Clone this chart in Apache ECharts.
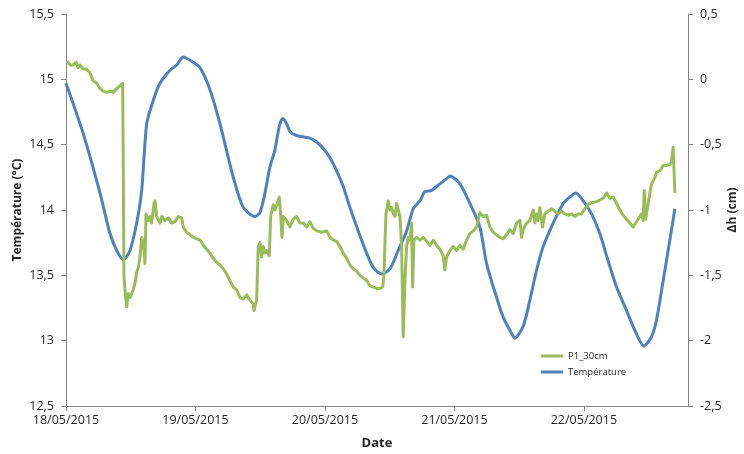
<!DOCTYPE html>
<html>
<head>
<meta charset="utf-8">
<script src="https://cdn.jsdelivr.net/npm/echarts@6/dist/echarts.min.js"></script>
<style>
  html, body { margin: 0; padding: 0; background: #fff; }
  #chart { width: 744px; height: 454px; }
</style>
</head>
<body>
<div id="chart"></div>
<script>
// Heures écoulées depuis le 18/05/2015 00:00
const dateLabels = ['18/05/2015', '19/05/2015', '20/05/2015', '21/05/2015', '22/05/2015'];
const axisEndHours = 115.3;

// P1_30cm : Δh (cm), axe de droite
const p1Hours = [
    0.19, 0.74, 1.30, 1.85, 2.22, 2.59, 3.15, 3.71, 4.45, 5.00, 5.69, 6.30, 6.86, 7.54, 8.15, 8.71, 9.40, 10.01, 10.51, 10.62,
    10.75, 10.93, 11.25, 11.55, 11.86, 12.18, 12.47, 12.79, 13.10, 13.40, 13.71, 14.03, 14.33, 14.64, 14.83, 15.25, 15.57, 15.88,
    16.31, 16.49, 16.81, 17.11, 17.42, 17.74, 18.35, 18.96, 19.59, 20.20, 20.81, 21.44, 21.74, 22.37, 22.98, 23.59, 24.22, 24.83,
    25.45, 26.08, 26.69, 27.30, 27.93, 28.54, 29.15, 29.78, 30.39, 31.01, 31.64, 32.25, 32.86, 33.49, 34.10, 34.71, 34.84, 35.03,
    35.34, 35.64, 35.95, 36.27, 36.57, 36.88, 37.20, 37.68, 37.94, 38.42, 38.73, 39.16, 39.53, 39.79, 40.03, 40.27, 40.90, 41.51,
    42.13, 42.76, 43.37, 43.98, 44.61, 45.22, 45.83, 46.46, 47.39, 48.32, 48.93, 49.54, 50.17, 50.78, 51.39, 52.02, 52.63, 53.24,
    53.87, 54.49, 55.10, 55.73, 56.34, 56.95, 57.58, 58.19, 58.69, 58.93, 59.31, 59.73, 60.05, 60.36, 60.66, 60.97, 61.29, 61.58,
    61.90, 62.21, 62.51, 62.83, 63.14, 63.44, 63.75, 64.07, 64.25, 64.49, 64.99, 65.61, 66.22, 66.85, 67.46, 68.07, 68.39, 68.70,
    69.31, 69.92, 70.24, 70.55, 71.17, 71.78, 72.41, 73.02, 73.63, 74.26, 74.87, 75.48, 76.11, 76.72, 77.04, 77.34, 77.97, 78.58,
    79.19, 79.82, 80.43, 81.04, 81.67, 82.28, 82.90, 83.53, 84.14, 84.45, 84.75, 85.38, 85.99, 86.60, 86.92, 87.23, 87.53, 87.85,
    88.16, 88.34, 88.77, 89.38, 90.01, 90.62, 91.24, 91.87, 92.48, 93.09, 93.72, 94.33, 94.94, 95.57, 96.19, 96.80, 97.43, 98.04,
    98.65, 99.58, 100.21, 100.82, 101.43, 102.06, 102.67, 103.28, 103.91, 104.52, 105.14, 105.77, 106.38, 106.69, 106.99, 107.18,
    107.44, 107.92, 108.23, 108.55, 109.16, 109.47, 110.09, 110.70, 111.33, 111.94, 112.25, 112.55, 112.87
];
const p1Values = [
    0.14, 0.11, 0.11, 0.13, 0.09, 0.11, 0.08, 0.08, 0.05, -0.01, -0.03, -0.07, -0.09, -0.10, -0.09, -0.10, -0.07, -0.05, -0.03, -0.04,
    -1.51, -1.61, -1.74, -1.64, -1.67, -1.64, -1.61, -1.56, -1.48, -1.44, -1.36, -1.21, -1.25, -1.41, -1.03, -1.08, -1.05, -1.10,
    -0.95, -0.93, -1.05, -1.04, -1.10, -1.05, -1.08, -1.06, -1.10, -1.09, -1.05, -1.06, -1.13, -1.17, -1.19, -1.21, -1.22, -1.23,
    -1.27, -1.30, -1.33, -1.37, -1.40, -1.42, -1.45, -1.49, -1.54, -1.59, -1.61, -1.67, -1.68, -1.65, -1.69, -1.72, -1.77, -1.74,
    -1.69, -1.28, -1.25, -1.36, -1.28, -1.33, -1.31, -1.35, -1.05, -0.96, -1.00, -0.95, -0.90, -1.03, -1.21, -1.05, -1.08, -1.13,
    -1.07, -1.05, -1.10, -1.10, -1.13, -1.09, -1.14, -1.16, -1.17, -1.16, -1.21, -1.23, -1.24, -1.28, -1.33, -1.37, -1.42, -1.45,
    -1.47, -1.50, -1.52, -1.54, -1.58, -1.59, -1.60, -1.60, -1.59, -1.51, -1.03, -0.93, -1.00, -0.98, -1.03, -1.05, -0.95, -0.94,
    -1.05, -1.28, -1.97, -1.54, -1.28, -1.21, -1.23, -1.10, -1.59, -1.23, -1.21, -1.23, -1.21, -1.24, -1.27, -1.23, -1.22, -1.27,
    -1.30, -1.35, -1.46, -1.36, -1.31, -1.28, -1.31, -1.27, -1.30, -1.23, -1.18, -1.16, -1.13, -1.02, -1.03, -1.05, -1.04, -1.13,
    -1.17, -1.19, -1.21, -1.22, -1.19, -1.15, -1.18, -1.10, -1.08, -1.21, -1.15, -1.10, -1.08, -1.00, -1.10, -1.03, -1.08, -0.98,
    -0.98, -1.13, -1.03, -1.01, -0.99, -1.01, -1.03, -1.01, -1.03, -1.04, -1.03, -1.05, -1.03, -1.03, -0.99, -0.96, -0.94, -0.94,
    -0.93, -0.91, -0.87, -0.91, -0.90, -0.95, -1.00, -1.04, -1.07, -1.10, -1.13, -1.09, -1.05, -1.03, -1.08, -0.85,
    -1.07, -0.95, -0.87, -0.80, -0.75, -0.71, -0.70, -0.66, -0.66, -0.65, -0.63, -0.52, -0.87
];

// Température (°C), axe de gauche
const tempHours = [
    0, 3.15, 6.30, 8.15, 9.40, 10.62, 11.86, 13.10, 14.03, 14.96, 16.18, 17.42, 19.28, 20.52, 21.74, 23.59, 24.83, 26.69,
    28.54, 31.01, 32.86, 35.03, 35.95, 36.88, 37.81, 38.73, 39.53, 40.16, 40.90, 41.51, 42.76, 43.98, 45.22, 46.46, 47.69,
    48.93, 50.17, 51.39, 52.63, 54.17, 55.73, 56.95, 58.51, 60.05, 61.58, 63.14, 64.37, 65.61, 66.53, 67.77, 69.00, 70.55,
    71.17, 73.02, 74.87, 76.72, 77.97, 79.82, 81.04, 82.28, 83.21, 84.75, 85.99, 87.23, 88.46, 90.31, 92.17, 93.72, 94.52,
    95.87, 97.43, 98.96, 100.21, 102.06, 103.91, 105.77, 107.12, 108.55, 109.47, 110.70, 111.94, 112.87
];
const tempValues = [
    14.97, 14.59, 14.13, 13.82, 13.69, 13.62, 13.69, 13.90, 14.15, 14.66, 14.84, 14.97, 15.07, 15.11, 15.17, 15.13, 15.09, 14.92,
    14.66, 14.25, 14.02, 13.95, 13.98, 14.13, 14.33, 14.46, 14.64, 14.70, 14.66, 14.60, 14.57, 14.56, 14.55, 14.52, 14.47,
    14.40, 14.30, 14.18, 14.02, 13.84, 13.67, 13.56, 13.51, 13.55, 13.69, 13.84, 14.01, 14.07, 14.14, 14.15, 14.19, 14.24,
    14.26, 14.20, 14.05, 13.87, 13.59, 13.33, 13.18, 13.08, 13.02, 13.11, 13.31, 13.54, 13.72, 13.90, 14.05, 14.11, 14.13,
    14.07, 13.97, 13.82, 13.65, 13.41, 13.23, 13.05, 12.96, 13.03, 13.16, 13.46, 13.77, 14.01
];

const tickHours = dateLabels.map((d, i) => i * 24);
const axisColor = '#868686';
const textColor = '#262626';
const font = 'Open Sans';

const pairs = (xs, ys) => xs.map((x, i) => [x, ys[i]]);
const comma = v => String(Math.round(v * 10) / 10).replace('.', ',');

const chart = echarts.init(document.getElementById('chart'), null, { renderer: 'canvas' });

chart.setOption({
    animation: false,
    backgroundColor: '#fff',
    grid: { left: 66, right: 56, top: 14, bottom: 48, outerBoundsMode: 'none' },
    legend: {
        orient: 'vertical',
        left: 536,
        top: 346,
        itemWidth: 22,
        itemHeight: 3,
        itemGap: 6,
        icon: 'rect',
        textStyle: { fontFamily: font, fontSize: 9.5, color: textColor },
        data: ['P1_30cm', 'Température']
    },
    xAxis: {
        type: 'value',
        min: 0,
        max: axisEndHours,
        name: 'Date',
        nameLocation: 'middle',
        nameGap: 31,
        nameMoveOverlap: false,
        nameTextStyle: { fontFamily: font, fontSize: 13, fontWeight: 'bold', color: textColor },
        axisLine: { onZero: false, lineStyle: { color: axisColor } },
        axisTick: { length: 5, lineStyle: { color: axisColor }, customValues: tickHours },
        axisLabel: {
            customValues: tickHours,
            margin: 8,
            fontFamily: font, fontSize: 12.5, color: textColor,
            formatter: v => dateLabels[Math.round(v / 24)]
        },
        splitLine: { show: false }
    },
    yAxis: [
        {
            type: 'value',
            min: 12.5, max: 15.5, interval: 0.5,
            name: 'Température (°C)',
            nameLocation: 'middle',
            nameRotate: 90,
            nameGap: 42,
            nameMoveOverlap: false,
            nameTextStyle: { fontFamily: font, fontSize: 12, fontWeight: 'bold', color: textColor },
            axisLine: { show: true, onZero: false, lineStyle: { color: axisColor } },
            axisTick: { show: true, length: 5, lineStyle: { color: axisColor } },
            axisLabel: { margin: 12, fontFamily: font, fontSize: 12.5, color: textColor, formatter: comma },
            splitLine: { show: false }
        },
        {
            type: 'value',
            position: 'right',
            min: -2.5, max: 0.5, interval: 0.5,
            name: 'Δh (cm)',
            nameLocation: 'middle',
            nameRotate: 90,
            nameGap: 39,
            nameMoveOverlap: false,
            nameTextStyle: { fontFamily: font, fontSize: 12, fontWeight: 'bold', color: textColor },
            axisLine: { show: true, onZero: false, lineStyle: { color: axisColor } },
            axisTick: { show: true, length: 5, lineStyle: { color: axisColor } },
            axisLabel: { margin: 12, fontFamily: font, fontSize: 12.5, color: textColor, formatter: comma },
            splitLine: { show: false }
        }
    ],
    series: [
        {
            name: 'P1_30cm',
            type: 'line',
            yAxisIndex: 1,
            data: pairs(p1Hours, p1Values),
            showSymbol: false,
            symbol: 'none',
            z: 3,
            color: '#9BBB59',
            lineStyle: { width: 3, color: '#9BBB59', join: 'round' }
        },
        {
            name: 'Température',
            type: 'line',
            yAxisIndex: 0,
            data: pairs(tempHours, tempValues),
            showSymbol: false,
            symbol: 'none',
            smooth: 0.25,
            z: 2,
            color: '#4F81BD',
            lineStyle: { width: 3, color: '#4F81BD' }
        }
    ]
});
</script>
</body>
</html>
